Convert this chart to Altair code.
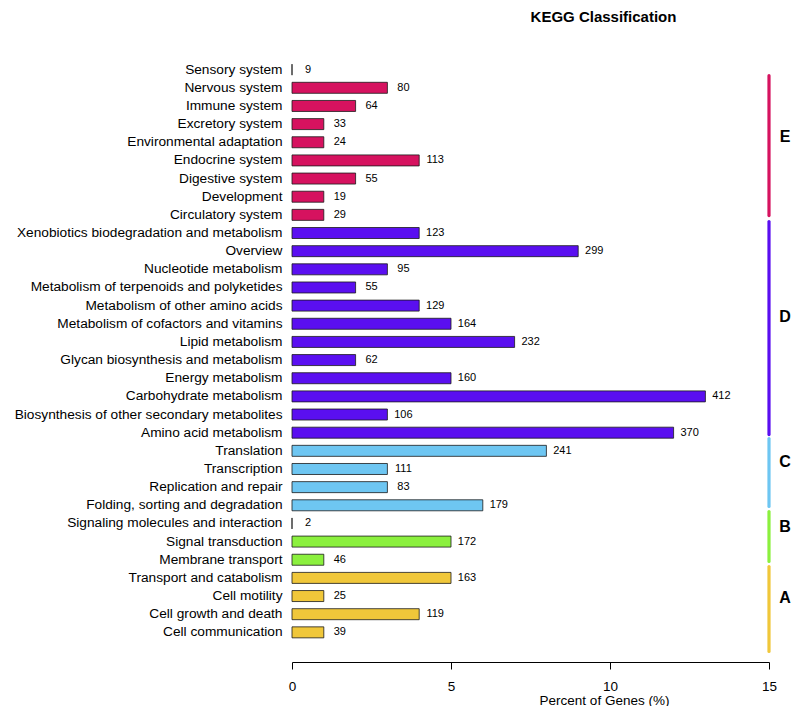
import altair as alt
import pandas as pd

categories = [
    "Sensory system", "Nervous system", "Immune system", "Excretory system",
    "Environmental adaptation", "Endocrine system", "Digestive system",
    "Development", "Circulatory system",
    "Xenobiotics biodegradation and metabolism", "Overview",
    "Nucleotide metabolism", "Metabolism of terpenoids and polyketides",
    "Metabolism of other amino acids", "Metabolism of cofactors and vitamins",
    "Lipid metabolism", "Glycan biosynthesis and metabolism",
    "Energy metabolism", "Carbohydrate metabolism",
    "Biosynthesis of other secondary metabolites", "Amino acid metabolism",
    "Translation", "Transcription", "Replication and repair",
    "Folding, sorting and degradation",
    "Signaling molecules and interaction", "Signal transduction",
    "Membrane transport",
    "Transport and catabolism", "Cell motility", "Cell growth and death",
    "Cell communication",
]
percents = [0, 3, 2, 1, 1, 4, 2, 1, 1,
            4, 9, 3, 2, 4, 5, 7, 2, 5, 13, 3, 12,
            8, 3, 3, 6,
            0, 5, 1,
            5, 1, 4, 1]
counts = [9, 80, 64, 33, 24, 113, 55, 19, 29,
          123, 299, 95, 55, 129, 164, 232, 62, 160, 412, 106, 370,
          241, 111, 83, 179,
          2, 172, 46,
          163, 25, 119, 39]
groups = ["E"] * 9 + ["D"] * 12 + ["C"] * 4 + ["B"] * 3 + ["A"] * 4

group_names = ["E", "D", "C", "B", "A"]
group_colors = ["#D6125F", "#5A0FF0", "#6EC6F2", "#8BF03E", "#F0C73A"]
line_start = [0.33, 8.37, 20.32, 24.34, 27.37]
line_end = [8.04, 20.10, 24.06, 27.09, 32.05]
letter_pos = [3.69, 13.6, 21.64, 25.22, 29.13]
x_ticks = [0, 5, 10, 15]
x_max = 15

FONT = "Liberation Sans"

df = pd.DataFrame({"category": categories, "percent": percents,
                   "count": counts, "group": groups})
gdf = pd.DataFrame({"group": group_names, "start": line_start,
                    "end": line_end, "pos": letter_pos})

color = alt.Color("group:N", scale=alt.Scale(domain=group_names, range=group_colors), legend=None)
band = alt.Scale(type="band", paddingInner=0.394, paddingOuter=1.0)
num_y = alt.Scale(domain=[-1.303, 32.30], reverse=True, nice=False, zero=False)

bars = alt.Chart(df).mark_bar(stroke="#1a1a1a", strokeWidth=0.8).encode(
    x=alt.X("percent:Q", scale=alt.Scale(domain=[0, x_max], nice=False),
            axis=alt.Axis(values=x_ticks, title="Percent of Genes (%)", grid=False,
                          offset=6, tickSize=7, labelPadding=10, labelFontSize=13.5,
                          labelFont=FONT, labelColor="black", domainColor="black",
                          tickColor="black", titleFont=FONT, titleFontSize=13.5,
                          titleFontWeight="normal", titleColor="black",
                          titleX=312, titleY=42, titleAlign="center",
                          titleBaseline="alphabetic", labelFlush=False, format="d")),
    y=alt.Y("category:N", sort=categories, scale=band,
            axis=alt.Axis(title=None, domain=False, ticks=False, tickSize=0,
                          labelPadding=10, labelFontSize=13.7, labelFont=FONT,
                          labelColor="black", labelLimit=400)),
    color=color,
)

labels = alt.Chart(df).mark_text(align="center", baseline="middle", dx=16,
                                 fontSize=11, font=FONT, color="black").encode(
    x=alt.X("percent:Q"),
    y=alt.Y("category:N", sort=categories, scale=band, axis=None),
    text="count:Q",
)

lines = alt.Chart(gdf).mark_rule(strokeWidth=3.2, strokeCap="round").encode(
    x=alt.datum(x_max),
    y=alt.Y("start:Q", scale=num_y, axis=None),
    y2="end:Q",
    color=color,
)

letters = alt.Chart(gdf).mark_text(align="center", baseline="middle", dx=16,
                                   fontSize=16, fontWeight="bold", font=FONT,
                                   color="black").encode(
    x=alt.datum(x_max),
    y=alt.Y("pos:Q", scale=num_y, axis=None),
    text="group:N",
)

chart = alt.layer(bars, labels, lines, letters).resolve_scale(
    y="independent"
).properties(
    width=477, height=610,
    autosize=alt.AutoSizeParams(type="none"),
    padding={"left": 284, "top": 38, "right": 22, "bottom": 50},
    title=alt.TitleParams("KEGG Classification", fontSize=15, fontWeight="bold",
                          font=FONT, color="black", anchor="middle", dx=73,
                          offset=9, baseline="alphabetic"),
).configure_view(stroke=None)

chart.save("out.html", embed_options={"renderer": "svg", "actions": False})
